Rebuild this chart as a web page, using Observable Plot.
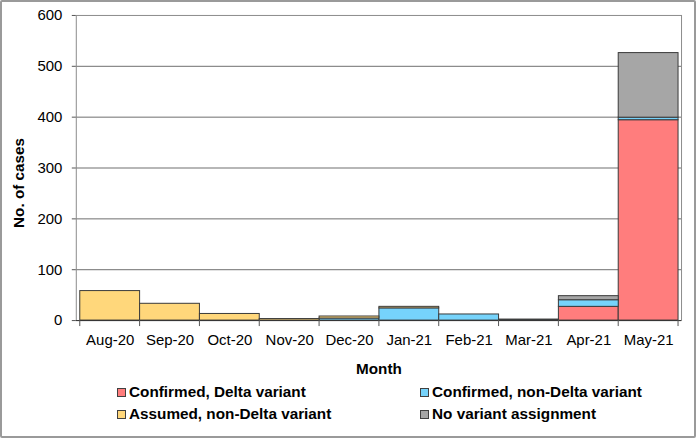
<!DOCTYPE html>
<html>
<head>
<meta charset="utf-8">
<script src="https://cdn.jsdelivr.net/npm/d3@7"></script>
<script src="https://cdn.jsdelivr.net/npm/@observablehq/plot@0.6"></script>
<style>
  html, body { margin: 0; padding: 0; background: #fff; }
  #frame { position: relative; width: 696px; height: 438px; box-sizing: border-box;
    border: 2px solid #9a9a9a; border-radius: 2px; overflow: hidden;
    font-family: "Liberation Sans", Arial, sans-serif; }
  #chart { position: absolute; left: -2px; top: -2px; }
  #legend { position: absolute; left: 115px; top: 379px; display: grid;
    grid-template-columns: 303px auto; grid-auto-rows: 22px; align-items: center;
    font-size: 15.3px; font-weight: bold; color: #000; }
  .item { display: flex; align-items: center; white-space: nowrap; }
  .sw { width: 7px; height: 7px; border: 1px solid #404040; margin-right: 3px; }
</style>
</head>
<body>
<div id="frame">
  <div id="chart"></div>
  <div id="legend"></div>
</div>
<script>
const months = ["Aug-20","Sep-20","Oct-20","Nov-20","Dec-20","Jan-21","Feb-21","Mar-21","Apr-21","May-21"];
const seriesNames = ["Confirmed, Delta variant","Confirmed, non-Delta variant","Assumed, non-Delta variant","No variant assignment"];
const seriesColors = ["#ff7d7d","#76d3fb","#ffd77b","#a6a6a6"];
const delta     = [0, 0, 0, 0, 0, 0, 0, 0, 27, 394];
const nonDelta  = [0, 0, 0, 0, 4, 24, 12, 2, 13, 5];
const assumed   = [58, 33, 13, 3, 4, 3, 0, 0, 0, 0];
const noVariant = [0, 0, 0, 0, 0, 0, 0, 0, 8, 127];
const yTicks = [0, 100, 200, 300, 400, 500, 600];
const gridTicks = [100, 200, 300, 400, 500];
const legendOrder = [0, 1, 2, 3];

const seriesValues = [delta, nonDelta, assumed, noVariant];
const rows = [];
seriesNames.forEach((s, i) => months.forEach((m, j) => {
  if (seriesValues[i][j] > 0) rows.push({month: m, series: s, value: seriesValues[i][j]});
}));

const chart = Plot.plot({
  width: 696, height: 384,
  marginTop: 15, marginBottom: 63, marginLeft: 76, marginRight: 13,
  style: {fontFamily: "Liberation Sans, Arial, sans-serif", fontSize: "15px", background: "transparent", color: "#000"},
  x: {domain: months, padding: 0, label: null},
  y: {domain: [0, 600], label: null},
  color: {domain: seriesNames, range: seriesColors},
  marks: [
    Plot.ruleY(gridTicks, {stroke: "#6e6e6e", strokeOpacity: 1}),
    Plot.frame({stroke: "#8c8c8c"}),
    Plot.barY(rows, {x: "month", y: "value", fill: "series", stroke: "#3a3a3a", strokeWidth: 1, inset: 0, order: seriesNames}),
    Plot.ruleY([0], {stroke: "#333"}),
    Plot.axisY({ticks: yTicks, tickSize: 4, tickPadding: 10, fontSize: 15, label: null, stroke: "#555"}),
    Plot.axisX({tickSize: 0, tickPadding: 14, fontSize: 15, label: null}),
    Plot.text(["No. of cases"], {text: d => d, frameAnchor: "left", textAnchor: "middle", lineAnchor: "middle", rotate: -90, dx: -57, dy: 15, fontWeight: "bold", fontSize: 15.3}),
    Plot.text(["Month"], {text: d => d, frameAnchor: "bottom", textAnchor: "middle", lineAnchor: "middle", dy: 49, fontWeight: "bold", fontSize: 15.3})
  ]
});

// boundary ticks below the x axis, placed with the plot's own scales
const sx = chart.scale("x"), sy = chart.scale("y");
const bounds = months.map(m => sx.apply(m)).concat([sx.apply(months[months.length - 1]) + sx.bandwidth]);
const y0 = sy.apply(0);
const g = d3.select(chart).append("g").attr("stroke", "#555");
bounds.forEach(b => g.append("line").attr("x1", b).attr("x2", b).attr("y1", y0).attr("y2", y0 + 6));

document.getElementById("chart").appendChild(chart);

const legend = document.getElementById("legend");
legendOrder.forEach(i => {
  const it = document.createElement("div");
  it.className = "item";
  const sw = document.createElement("span");
  sw.className = "sw";
  sw.style.background = seriesColors[i];
  it.appendChild(sw);
  it.appendChild(document.createTextNode(seriesNames[i]));
  legend.appendChild(it);
});
</script>
</body>
</html>
